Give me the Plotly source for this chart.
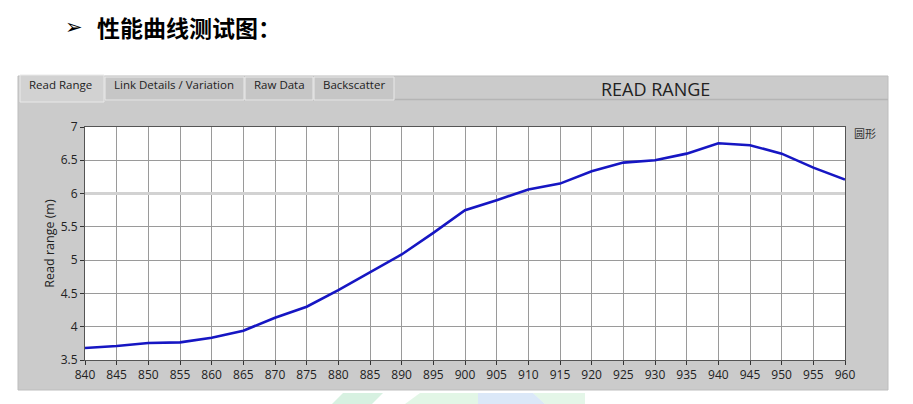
import plotly.graph_objects as go

# ---- data ----
freq_mhz = [840, 845, 850, 855, 860, 865, 870, 875, 880, 885, 890, 895, 900,
            905, 910, 915, 920, 925, 930, 935, 940, 945, 950, 955, 960]
read_range_m = [3.68, 3.71, 3.755, 3.765, 3.835, 3.94, 4.135, 4.30, 4.55, 4.815,
                5.085, 5.41, 5.75, 5.90, 6.06, 6.15, 6.335, 6.465, 6.50, 6.60,
                6.755, 6.725, 6.60, 6.39, 6.21]
x_ticks = list(range(840, 961, 5))
y_ticks = [3.5, 4, 4.5, 5, 5.5, 6, 6.5, 7]
y_tick_labels = ["3.5", "4", "4.5", "5", "5.5", "6", "6.5", "7"]
cursor_level = 6
tab_labels = ["Read Range", "Link Details / Variation", "Raw Data", "Backscatter"]
series_name = "圆形"

W, H = 913, 404
L, R, T, B = 85, 68, 127, 44
PW, PH = W - L - R, H - T - B


def px(x):
    return (x - L) / PW


def py(y):
    return (H - B - y) / PH


fig = go.Figure()
# light cursor line at y=6 (drawn above grid, below the curve)
fig.add_trace(go.Scatter(x=[x_ticks[0], x_ticks[-1]], y=[cursor_level, cursor_level],
                         mode="lines", line=dict(color="#d2d2d2", width=3),
                         showlegend=False, hoverinfo="skip"))
fig.add_trace(go.Scatter(x=freq_mhz, y=read_range_m, mode="lines", name=series_name,
                         line=dict(color="rgb(22,22,195)", width=2.6),
                         showlegend=False))

shapes = []
# grey panel
shapes.append(dict(type="rect", xref="paper", yref="paper", x0=px(18), x1=px(888),
                   y0=py(390), y1=py(76), fillcolor="#cbcbcb",
                   line=dict(color="#bdbdbd", width=1), layer="below"))
# white plot area
shapes.append(dict(type="rect", xref="paper", yref="paper", x0=0, x1=1, y0=0, y1=1,
                   fillcolor="white", line=dict(width=0), layer="below"))
# header strip line
shapes.append(dict(type="line", xref="paper", yref="paper", x0=px(20), x1=px(888),
                   y0=py(99.5), y1=py(99.5), line=dict(color="#b5b5b5", width=1.5),
                   layer="below"))
# tabs
tab_edges = [(20, 104), (105, 244), (245, 313), (314, 394)]
for i, (a, b) in enumerate(tab_edges):
    shapes.append(dict(type="rect", xref="paper", yref="paper", x0=px(a), x1=px(b),
                       y0=py(100 if i else 102), y1=py(75 if i == 0 else 77),
                       fillcolor="#d2d2d2" if i == 0 else "#c6c6c6",
                       line=dict(color="#e9e9e9", width=1), layer="below"))
# faint watermark shapes at the bottom
wm = [((343, 393), (383, 393), (372, 404), (332, 404), "rgba(140,215,170,0.35)"),
      ((420, 393), (478, 393), (478, 404), (405, 404), "rgba(190,235,200,0.45)"),
      ((478, 393), (533, 393), (545, 404), (478, 404), "rgba(175,205,240,0.45)"),
      ((533, 393), (585, 393), (585, 404), (545, 404), "rgba(195,235,205,0.45)")]
for p1, p2, p3, p4, c in wm:
    path = "M {} {} L {} {} L {} {} L {} {} Z".format(px(p1[0]), py(p1[1]), px(p2[0]), py(p2[1]),
                                                  px(p3[0]), py(p3[1]), px(p4[0]), py(p4[1]))
    shapes.append(dict(type="path", xref="paper", yref="paper", path=path,
                       fillcolor=c, line=dict(width=0), layer="below"))

annotations = []
font_ui = "Open Sans, DejaVu Sans, sans-serif"
tab_centers = [60, 174, 279, 354]
for lbl, cx in zip(tab_labels, tab_centers):
    annotations.append(dict(text=lbl, xref="paper", yref="paper", x=px(cx), y=py(85),
                            xanchor="center", yanchor="middle", showarrow=False,
                            font=dict(family=font_ui, size=11.5, color="#222")))
annotations.append(dict(text="READ RANGE", xref="paper", yref="paper", x=px(655), y=py(89),
                        xanchor="center", yanchor="middle", showarrow=False,
                        font=dict(family=font_ui, size=18, color="#222")))
annotations.append(dict(text=series_name, xref="paper", yref="paper", x=px(852), y=py(133),
                        xanchor="left", yanchor="middle", showarrow=False,
                        font=dict(family="Noto Sans CJK SC", size=11, color="#333")))
annotations.append(dict(text="➢", xref="paper", yref="paper", x=px(63), y=py(27),
                        xanchor="left", yanchor="middle", showarrow=False,
                        font=dict(family="DejaVu Sans", size=21, color="#000")))
annotations.append(dict(text="<b>性能曲线测试图：</b>", xref="paper", yref="paper", x=px(95), y=py(27),
                        xanchor="left", yanchor="middle", showarrow=False,
                        font=dict(family="Noto Sans CJK SC", size=23, color="#000")))

fig.update_layout(
    width=W, height=H,
    margin=dict(l=L, r=R, t=T, b=B, pad=0),
    paper_bgcolor="white", plot_bgcolor="white",
    shapes=shapes, annotations=annotations,
    xaxis=dict(range=[840, 960], tickmode="array", tickvals=x_ticks,
               showgrid=True, gridcolor="#9a9a9a", gridwidth=1,
               showline=True, linecolor="#555", linewidth=1, mirror=True,
               ticks="outside", ticklen=4, tickcolor="#333",
               tickfont=dict(family=font_ui, size=12, color="#222"),
               zeroline=False, fixedrange=True, automargin=False),
    yaxis=dict(range=[3.5, 7], tickmode="array", tickvals=y_ticks, ticktext=y_tick_labels,
               showgrid=True, gridcolor="#9a9a9a", gridwidth=1,
               showline=True, linecolor="#555", linewidth=1, mirror=True,
               ticks="outside", ticklen=4, tickcolor="#333",
               tickfont=dict(family=font_ui, size=12, color="#222"),
               title=dict(text="Read range (m)", standoff=3,
                          font=dict(family=font_ui, size=12.5, color="#222")),
               zeroline=False, fixedrange=True, automargin=False),
)

fig.write_html("out.html", config={"displayModeBar": False},
               post_script="document.body.style.margin='0';")
